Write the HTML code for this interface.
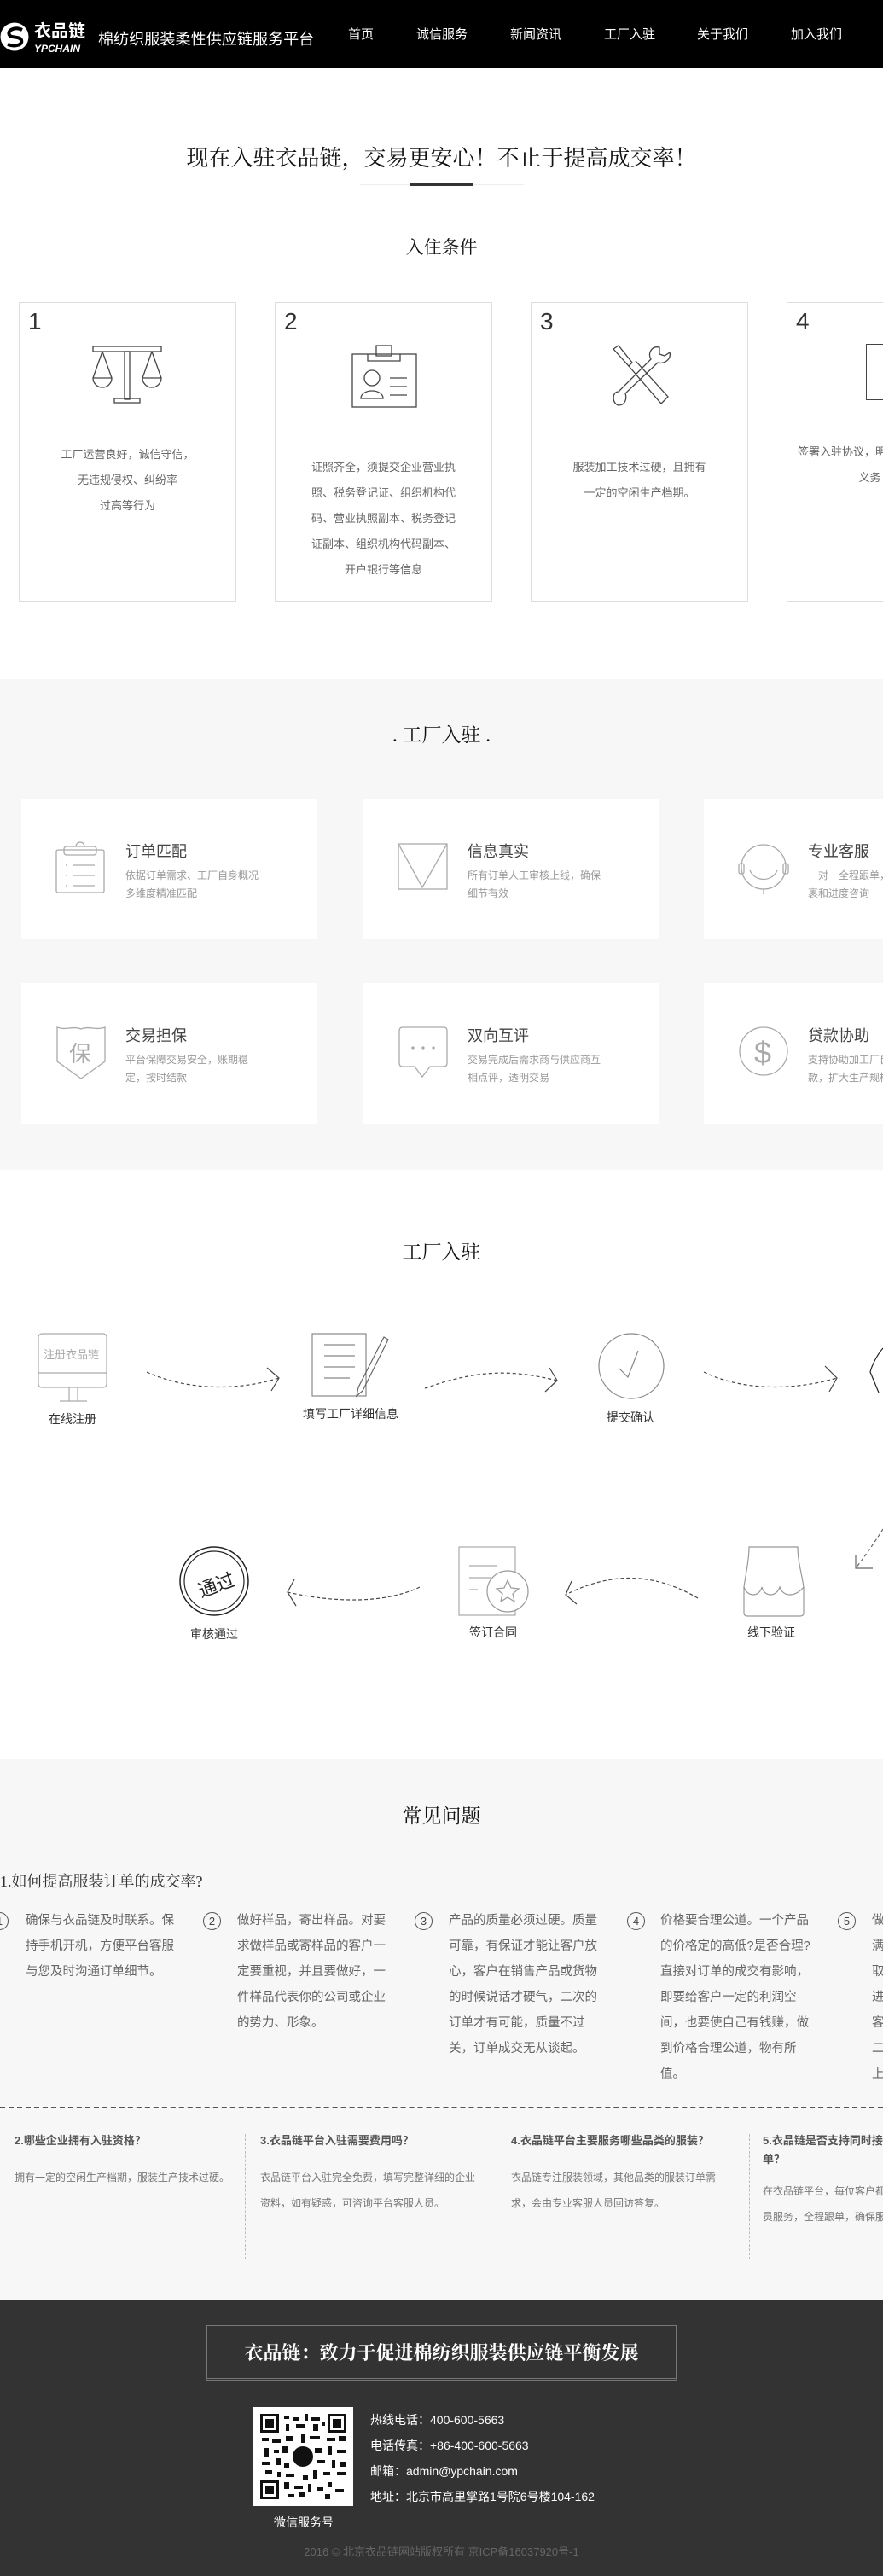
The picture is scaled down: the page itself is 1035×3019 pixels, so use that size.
<!DOCTYPE html>
<html><head><meta charset="utf-8">
<style>
*{margin:0;padding:0;box-sizing:border-box}
html,body{width:1035px;height:3019px;overflow:hidden;background:#fff}
body{position:relative;font-family:"Liberation Sans","Noto Sans CJK SC",sans-serif;color:#333}
.a{position:absolute;white-space:nowrap}
.serif{font-family:"Liberation Serif","Noto Serif CJK SC",serif}
.card1{position:absolute;top:354px;width:255px;height:351px;border:1px solid #ddd;background:#fff;overflow:hidden}
.card1 .n{position:absolute;left:10px;top:6px;font-size:28px;color:#333}
.card1 .t{position:absolute;left:0;right:0;text-align:center;font-size:13px;line-height:30px;color:#666;white-space:nowrap}
.svc{position:absolute;width:347px;height:165px;background:#fff}
.svc svg{position:absolute;left:40px;top:50px}
.svc .h{position:absolute;left:122px;top:48px;font-size:18px;color:#444}
.svc .d{position:absolute;left:122px;top:80px;font-size:12px;line-height:21px;color:#999;white-space:nowrap}
.lbl{position:absolute;font-size:14px;color:#333;transform:translateX(-50%);white-space:nowrap}
.faq{position:absolute;top:2236px;width:180px;font-size:14.5px;line-height:30px;color:#666}
.cir{position:absolute;top:2241px;width:21px;height:21px;border:1px solid #555;border-radius:50%;font-size:13px;line-height:19px;text-align:center;color:#444}
.q{position:absolute;top:2498px;width:262px;font-size:13px;color:#555;font-weight:bold;line-height:22px}
.qa{position:absolute;top:2537px;width:262px;font-size:12px;color:#777;line-height:30px}
.vd{position:absolute;top:2501px;height:147px;border-left:1px dashed #bbb}
</style></head><body>

<div class="a" style="left:0;top:0;width:1035px;height:80px;background:#000"></div>
<svg class="a" style="left:0;top:26px" width="36" height="36" viewBox="0 0 36 36"><circle cx="17" cy="17" r="16.5" fill="#fff"/><path d="M26 9 C18 5 8 9 11 15 C13 19 23 16 25 21 C27 27 17 29 9 26" stroke="#000" stroke-width="4" fill="none"/></svg>
<div class="a" style="left:40px;top:25px;font-size:20px;line-height:24px;color:#fff;font-weight:bold">衣品链</div>
<div class="a" style="left:40px;top:50px;font-size:12px;line-height:14px;color:#fff;font-weight:bold;font-style:italic">YPCHAIN</div>
<div class="a" style="left:115px;top:35px;font-size:18px;line-height:22px;color:#fff;letter-spacing:0.1px">棉纺织服装柔性供应链服务平台</div>
<div class="a" style="left:408px;top:31px;font-size:15px;line-height:20px;color:#fff">首页</div>
<div class="a" style="left:488px;top:31px;font-size:15px;line-height:20px;color:#fff">诚信服务</div>
<div class="a" style="left:598px;top:31px;font-size:15px;line-height:20px;color:#fff">新闻资讯</div>
<div class="a" style="left:708px;top:31px;font-size:15px;line-height:20px;color:#fff">工厂入驻</div>
<div class="a" style="left:817px;top:31px;font-size:15px;line-height:20px;color:#fff">关于我们</div>
<div class="a" style="left:927px;top:31px;font-size:15px;line-height:20px;color:#fff">加入我们</div>

<div class="a serif" style="left:0;width:1035px;text-align:center;top:169px;font-size:26px;line-height:34px;color:#111">现在入驻衣品链，交易更安心！不止于提高成交率！</div>
<div class="a" style="left:422px;top:216px;width:192px;height:1px;background:#eee"></div>
<div class="a" style="left:480px;top:215px;width:75px;height:3px;background:#333"></div>
<div class="a serif" style="left:0;width:1035px;text-align:center;top:277px;font-size:21px;line-height:26px;color:#111">入住条件</div>

<div class="card1" style="left:22px"><div class="n">1</div>
<svg class="a" style="left:84px;top:48px" width="86" height="76" viewBox="0 0 86 76" fill="none" stroke="#444" stroke-width="1.3"><rect x="2" y="3" width="80" height="6"/><rect x="39" y="9" width="6" height="56"/><rect x="27" y="64" width="30" height="5"/><path d="M13 9 L2 40 M13 9 L24 40 M71 9 L60 40 M71 9 L82 40"/><path d="M2 40 A11 11 0 0 0 24 40 Z M60 40 A11 11 0 0 0 82 40 Z"/></svg>
<div class="t" style="top:163px">工厂运营良好，诚信守信，</div>
<div class="t" style="top:193px">无违规侵权、纠纷率</div>
<div class="t" style="top:223px">过高等行为</div></div>

<div class="card1" style="left:322px"><div class="n">2</div>
<svg class="a" style="left:88px;top:48px" width="80" height="76" viewBox="0 0 80 76" fill="none" stroke="#444" stroke-width="1.3"><rect x="2" y="12" width="75" height="62"/><rect x="30" y="2" width="18" height="12"/><path d="M20 12 V20 H58 V12"/><circle cx="25" cy="40" r="9"/><path d="M12 64 C12 52 38 52 38 64 Z"/><path d="M46 40 H66 M46 50 H66 M46 60 H66"/></svg>
<div class="t" style="top:178px">证照齐全，须提交企业营业执</div>
<div class="t" style="top:208px">照、税务登记证、组织机构代</div>
<div class="t" style="top:238px">码、营业执照副本、税务登记</div>
<div class="t" style="top:268px">证副本、组织机构代码副本、</div>
<div class="t" style="top:298px">开户银行等信息</div></div>

<div class="card1" style="left:622px"><div class="n">3</div>
<svg class="a" style="left:92px;top:48px" width="76" height="76" viewBox="0 0 76 76" fill="none" stroke="#444" stroke-width="1.3"><path d="M4 6 L10 2 L26 22 L22 26 Z M22 26 L60 70 L68 62 L30 20"/><path d="M58 4 C48 2 44 12 48 18 L10 56 C2 56 2 70 10 72 C18 72 20 64 18 58 L56 22 C64 24 72 18 70 10 L64 14 L58 12 Z"/></svg>
<div class="t" style="top:178px">服装加工技术过硬，且拥有</div>
<div class="t" style="top:208px">一定的空闲生产档期。</div></div>

<div class="card1" style="left:922px"><div class="n">4</div>
<div class="a" style="left:92px;top:48px;width:60px;height:66px;border:1.3px solid #444"></div>
<div class="t" style="top:160px;left:-60px">签署入驻协议，明确双方权利</div>
<div class="t" style="top:190px;left:-60px">义务</div></div>

<div class="a" style="left:0;top:796px;width:1035px;height:575px;background:#f7f7f7"></div>
<div class="a serif" style="left:0;width:1035px;text-align:center;top:847px;font-size:23px;line-height:30px;color:#111">. 工厂入驻 .</div>

<div class="svc" style="left:25px;top:936px">
<svg width="60" height="62" viewBox="0 0 60 62" fill="none" stroke="#aaa" stroke-width="1.3" style="left:40px;top:50px"><rect x="1" y="10" width="56" height="50" rx="2"/><rect x="10" y="6" width="38" height="10" rx="3"/><path d="M24 6 A5 5 0 0 1 34 6"/><path d="M12 28 H14 M20 28 H46 M12 40 H14 M20 40 H46 M12 52 H14 M20 52 H46"/></svg>
<div class="h">订单匹配</div><div class="d">依据订单需求、工厂自身概况<br>多维度精准匹配</div></div>
<div class="svc" style="left:426px;top:936px">
<svg width="60" height="56" viewBox="0 0 60 56" fill="none" stroke="#aaa" stroke-width="1.3" style="left:40px;top:52px"><rect x="1" y="1" width="57" height="53"/><path d="M1 1 L29 52 L58 1"/></svg>
<div class="h">信息真实</div><div class="d">所有订单人工审核上线，确保<br>细节有效</div></div>
<div class="svc" style="left:825px;top:936px">
<svg width="60" height="66" viewBox="0 0 60 66" fill="none" stroke="#aaa" stroke-width="1.3" style="left:40px;top:50px"><circle cx="30" cy="30" r="26"/><path d="M14 34 C20 48 40 48 46 34"/><rect x="1" y="26" width="6" height="12" rx="2"/><rect x="53" y="26" width="6" height="12" rx="2"/><path d="M30 56 V62"/></svg>
<div class="h">专业客服</div><div class="d">一对一全程跟单，提供订单包<br>裹和进度咨询</div></div>

<div class="svc" style="left:25px;top:1152px">
<svg width="60" height="64" viewBox="0 0 60 64" fill="none" stroke="#aaa" stroke-width="1.3" style="left:40px;top:50px"><path d="M2 2 C12 6 20 0 30 4 C40 0 48 6 58 2 V42 L30 62 L2 42 Z"/><text x="16" y="42" font-size="26" fill="#aaa" stroke="none" font-family="Noto Sans CJK SC">保</text></svg>
<div class="h">交易担保</div><div class="d">平台保障交易安全，账期稳<br>定，按时结款</div></div>
<div class="svc" style="left:426px;top:1152px">
<svg width="60" height="64" viewBox="0 0 60 64" fill="none" stroke="#aaa" stroke-width="1.3" style="left:40px;top:50px"><path d="M6 2 H54 Q58 2 58 6 V44 Q58 48 54 48 H38 L29 60 L20 48 H6 Q2 48 2 44 V6 Q2 2 6 2 Z"/><circle cx="18" cy="26" r="1" fill="#888"/><circle cx="30" cy="26" r="1" fill="#888"/><circle cx="42" cy="26" r="1" fill="#888"/></svg>
<div class="h">双向互评</div><div class="d">交易完成后需求商与供应商互<br>相点评，透明交易</div></div>
<div class="svc" style="left:825px;top:1152px">
<svg width="60" height="60" viewBox="0 0 60 60" fill="none" stroke="#aaa" stroke-width="1.3" style="left:40px;top:50px"><circle cx="30" cy="30" r="28"/><text x="19" y="44" font-size="36" fill="#aaa" stroke="none">$</text></svg>
<div class="h">贷款协助</div><div class="d">支持协助加工厂自主贷<br>款，扩大生产规模</div></div>

<div class="a serif" style="left:0;width:1035px;text-align:center;top:1453px;font-size:23px;line-height:30px;color:#111">工厂入驻</div>
<svg class="a" style="left:0;top:1540px" width="1035" height="400" viewBox="0 1540 1035 400" fill="none" stroke="#444" stroke-width="1.2">
 <rect x="45" y="1563" width="80" height="63" rx="4" stroke="#aaa"/><path d="M45 1609 H125" stroke="#aaa"/><path d="M81 1626 V1642 M91 1626 V1642 M70 1642 H102" stroke="#aaa"/>
 <text x="51" y="1592" font-size="13" fill="#aaa" stroke="none" font-family="Noto Sans CJK SC">注册衣品链</text>
 <rect x="366" y="1563" width="63" height="73" stroke="#888"/><path d="M380 1576 H416 M380 1589 H416 M380 1602 H416 M380 1615 H410" stroke="#888"/><path d="M455 1570 L425 1630 L418 1636 L420 1626 L450 1567 Z" stroke="#666"/>
 <circle cx="740" cy="1601" r="38" stroke="#888"/><path d="M726 1604 L736 1614 L748 1583" stroke="#888"/>
 <path d="M1035 1580 C1028 1588 1022 1600 1020 1608 L1030 1632" stroke="#222"/>
 <path d="M172 1608 C220 1630 280 1630 327 1615" stroke-dasharray="4 3"/><path d="M313 1603 L327 1615 L318 1630"/>
 <path d="M498 1627 C560 1605 600 1605 653 1618" stroke-dasharray="4 3"/><path d="M644 1603 L653 1618 L639 1631"/>
 <path d="M825 1608 C870 1630 930 1630 981 1615" stroke-dasharray="4 3"/><path d="M967 1601 L981 1615 L972 1631"/>
 <path d="M1035 1792 C1025 1808 1015 1822 1003 1838" stroke-dasharray="4 3" stroke="#666"/><path d="M1003 1822 L1003 1838 L1023 1838" stroke="#666"/>
 <path d="M878 1813 H935 C935 1830 940 1845 942 1860 V1890 Q942 1894 938 1894 H876 Q872 1894 872 1890 V1860 C874 1845 878 1830 878 1813 Z" stroke="#999"/>
 <path d="M872 1860 C876 1872 890 1872 893 1860 C896 1872 910 1872 914 1860 C918 1872 932 1872 942 1860" stroke="#999"/>
 <rect x="538" y="1813" width="66" height="80" stroke="#aaa"/><path d="M550 1835 H583 M550 1849 H575 M550 1863 H560" stroke="#aaa"/>
 <circle cx="595" cy="1865" r="24" fill="#fff" stroke="#999"/><path d="M595 1852 L599 1861 L608 1862 L601 1868 L603 1877 L595 1872 L587 1877 L589 1868 L582 1862 L591 1861 Z" stroke="#999"/>
 <circle cx="251" cy="1853" r="40" stroke="#222" stroke-width="1.5"/><circle cx="251" cy="1853" r="35" stroke="#222" stroke-width="1.2"/>
 <text x="230" y="1866" font-size="22" fill="#222" stroke="none" font-family="Noto Sans CJK SC" transform="rotate(-20 251 1853)">通过</text>
 <path d="M818 1873 C770 1845 720 1840 663 1869" stroke-dasharray="4 3"/><path d="M670 1853 L663 1869 L676 1880"/>
 <path d="M492 1860 C450 1880 390 1878 337 1866" stroke-dasharray="4 3"/><path d="M345 1851 L337 1866 L347 1882"/>
</svg>
<div class="lbl" style="left:85px;top:1653px">在线注册</div>
<div class="lbl" style="left:411px;top:1647px">填写工厂详细信息</div>
<div class="lbl" style="left:739px;top:1651px">提交确认</div>
<div class="lbl" style="left:251px;top:1905px">审核通过</div>
<div class="lbl" style="left:578px;top:1903px">签订合同</div>
<div class="lbl" style="left:904px;top:1903px">线下验证</div>

<div class="a" style="left:0;top:2062px;width:1035px;height:633px;background:#f7f7f7"></div>
<div class="a serif" style="left:0;width:1035px;text-align:center;top:2114px;font-size:23px;line-height:30px;color:#111">常见问题</div>
<div class="a serif" style="left:0;top:2193px;font-size:18px;line-height:24px;color:#333">1.如何提高服装订单的成交率?</div>
<div class="cir" style="left:-11px">1</div>
<div class="cir" style="left:238px">2</div>
<div class="cir" style="left:486px">3</div>
<div class="cir" style="left:735px">4</div>
<div class="cir" style="left:982px">5</div>
<div class="faq" style="left:30px">确保与衣品链及时联系。保持手机开机，方便平台客服与您及时沟通订单细节。</div>
<div class="faq" style="left:278px">做好样品，寄出样品。对要求做样品或寄样品的客户一定要重视，并且要做好，一件样品代表你的公司或企业的势力、形象。</div>
<div class="faq" style="left:526px">产品的质量必须过硬。质量可靠，有保证才能让客户放心，客户在销售产品或货物的时候说话才硬气，二次的订单才有可能，质量不过关，订单成交无从谈起。</div>
<div class="faq" style="left:774px">价格要合理公道。一个产品的价格定的高低?是否合理?直接对订单的成交有影响，即要给客户一定的利润空间，也要使自己有钱赚，做到价格合理公道，物有所值。</div>
<div class="faq" style="left:1022px;width:16px">做满取进客二上</div>
<div class="a" style="left:0;top:2469px;width:1035px;border-top:2px dashed #555"></div>
<div class="vd" style="left:287px"></div><div class="vd" style="left:582px"></div><div class="vd" style="left:878px"></div>
<div class="q" style="left:17px">2.哪些企业拥有入驻资格？</div>
<div class="qa" style="left:17px">拥有一定的空闲生产档期，服装生产技术过硬。</div>
<div class="q" style="left:305px">3.衣品链平台入驻需要费用吗？</div>
<div class="qa" style="left:305px">衣品链平台入驻完全免费，填写完整详细的企业资料，如有疑惑，可咨询平台客服人员。</div>
<div class="q" style="left:599px">4.衣品链平台主要服务哪些品类的服装？</div>
<div class="qa" style="left:599px">衣品链专注服装领域，其他品类的服装订单需求，会由专业客服人员回访答复。</div>
<div class="q" style="left:894px;width:141px;overflow:hidden;white-space:nowrap">5.衣品链是否支持同时接<br>单？</div>
<div class="qa" style="left:894px;top:2553px;width:141px;overflow:hidden;white-space:nowrap">在衣品链平台，每位客户都<br>员服务，全程跟单，确保服</div>

<div class="a" style="left:0;top:2695px;width:1035px;height:324px;background:#333"></div>
<div class="a" style="left:242px;top:2725px;width:551px;height:65px;border:1px solid #777;border-bottom:3px double #777"></div>
<div class="a serif" style="left:242px;width:551px;text-align:center;top:2743px;font-size:22px;line-height:30px;color:#fff;font-weight:bold">衣品链：致力于促进棉纺织服装供应链平衡发展</div>
<div class="a" style="left:297px;top:2821px;width:117px;height:116px;background:#fff"></div>
<svg class="a" style="left:305px;top:2829px" width="101" height="100" viewBox="0 0 101 100">
<g fill="#111"><rect x="0" y="0" width="22" height="22"/><rect x="79" y="0" width="22" height="22"/><rect x="0" y="78" width="22" height="22"/></g>
<g fill="#fff"><rect x="3" y="3" width="16" height="16"/><rect x="82" y="3" width="16" height="16"/><rect x="3" y="81" width="16" height="16"/></g>
<g fill="#111"><rect x="6" y="6" width="10" height="10"/><rect x="85" y="6" width="10" height="10"/><rect x="6" y="84" width="10" height="10"/>
<path d="M28 2h6v4h-6zM38 4h8v4h-8zM52 0h4v8h-4zM60 4h10v4h-10zM30 12h4v8h-4zM42 12h10v4h-10zM62 12h6v8h-6zM72 10h4v4h-4zM2 28h8v4H2zM14 30h10v4H14zM30 26h8v6h-8zM48 24h4v10h-4zM58 26h12v4H58zM78 28h10v4H78zM92 26h8v6h-8zM4 40h6v10H4zM16 42h6v4h-6zM26 38h6v8h-6zM64 40h8v6h-8zM80 38h4v10h-4zM90 42h10v4H90zM2 56h10v4H2zM18 52h6v8h-6zM28 58h6v6h-6zM66 54h10v4H66zM84 54h4v10h-4zM94 56h6v6h-6zM6 66h8v4H6zM20 68h4v6h-4zM30 70h10v4H30zM50 72h6v6h-6zM62 66h4v10h-4zM74 68h8v4h-8zM90 68h10v4H90zM28 80h6v8h-6zM40 84h10v4H40zM56 82h4v10h-4zM66 86h8v4h-8zM80 80h4v6h-4zM88 88h10v4H88zM32 94h8v4h-8zM46 92h6v6h-6zM76 94h6v6h-6z"/>
<circle cx="50" cy="50" r="12"/></g></svg>
<div class="a" style="left:434px;top:2826px;font-size:14px;line-height:20px;color:#fff">热线电话：400-600-5663</div>
<div class="a" style="left:434px;top:2856px;font-size:14px;line-height:20px;color:#fff">电话传真：+86-400-600-5663</div>
<div class="a" style="left:434px;top:2886px;font-size:14px;line-height:20px;color:#fff">邮箱：admin@ypchain.com</div>
<div class="a" style="left:434px;top:2916px;font-size:14px;line-height:20px;color:#fff">地址：北京市高里掌路1号院6号楼104-162</div>
<div class="a" style="left:296px;width:120px;text-align:center;top:2946px;font-size:14px;line-height:20px;color:#fff">微信服务号</div>
<div class="a" style="left:0;width:1035px;text-align:center;top:2982px;font-size:13px;line-height:18px;color:#666">2016 © 北京衣品链网站版权所有 京ICP备16037920号-1</div>
</body></html>
